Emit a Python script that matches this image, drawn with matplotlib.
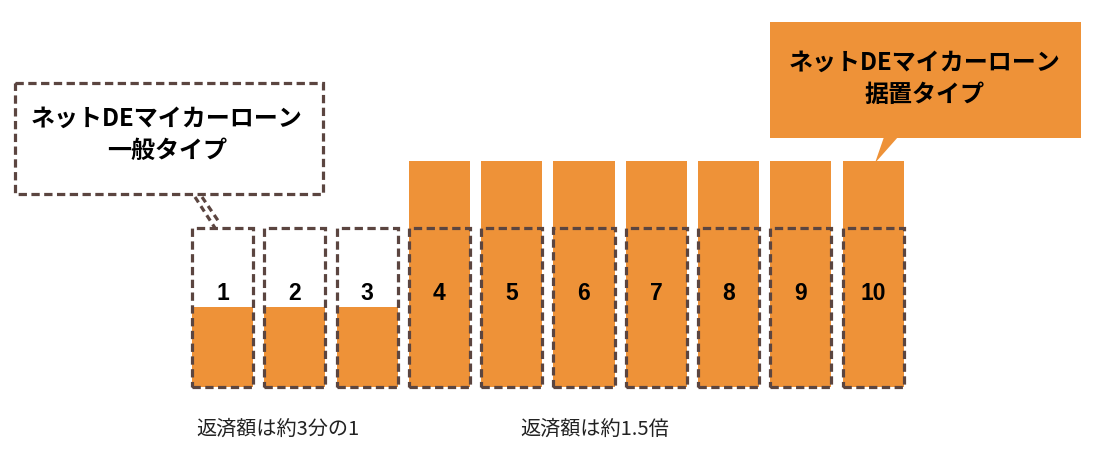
import matplotlib
matplotlib.use("Agg")
import matplotlib.pyplot as plt
from matplotlib.patches import Rectangle, Polygon

plt.rcParams['font.family'] = ['Noto Sans CJK JP', 'DejaVu Sans']

# ---- data ----
bar_labels = ["1", "2", "3", "4", "5", "6", "7", "8", "9", "10"]
payment = [0.5, 0.5, 0.5, 1.42, 1.42, 1.42, 1.42, 1.42, 1.42, 1.42]
standard = [1, 1, 1, 1, 1, 1, 1, 1, 1, 1]
left_callout = "ネットDEマイカーローン\n一般タイプ"
right_callout = "ネットDEマイカーローン\n据置タイプ"
note_low = "返済額は約3分の1"
note_high = "返済額は約1.5倍"

ORANGE = "#EE9238"
BROWN = "#5B4540"

W, H = 1100, 468
fig = plt.figure(figsize=(W / 100, H / 100), dpi=100)
ax = fig.add_axes([0, 0, 1, 1])
ax.set_xlim(-2.077, 13.137)
ax.set_ylim(-0.514, 2.438)
ax.axis("off")

xs = list(range(1, len(bar_labels) + 1))
bw = 0.845
ax.bar(xs, payment, width=bw, color=ORANGE, edgecolor='none', zorder=1)
ax.bar(xs, standard, width=bw, fill=False, edgecolor=BROWN, linewidth=2.3,
       linestyle=(0, (2.6, 1.4)), zorder=2)
for x, lab in zip(xs, bar_labels):
    ax.text(x, 0.585, lab, ha='center', va='center', fontsize=16.5,
            fontweight='bold', color='black', zorder=3,
            family=['Liberation Sans', 'DejaVu Sans'])

# overlay axes in pixel coordinates for callouts
ov = fig.add_axes([0, 0, 1, 1])
ov.set_xlim(0, W)
ov.set_ylim(H, 0)
ov.axis("off")
ov.patch.set_alpha(0)

# left callout (dashed)
ov.add_patch(Rectangle((15, 83), 308, 111, fill=False, edgecolor=BROWN,
                       linewidth=2.3, linestyle=(0, (2.6, 1.4))))
ov.plot([195, 215], [197, 228], color=BROWN, lw=2.3, linestyle=(0, (2.0, 1.4)))
ov.plot([202, 219], [197, 222], color=BROWN, lw=2.3, linestyle=(0, (2.0, 1.4)))
ov.text(167, 135, left_callout, ha='center', va='center', fontsize=17.3,
        fontweight='bold', color='black', linespacing=1.45)

# right callout (filled)
ov.add_patch(Rectangle((770, 22), 311, 116, facecolor=ORANGE, edgecolor='none'))
ov.add_patch(Polygon([[884, 137], [898, 137], [875, 163]], closed=True,
                     facecolor=ORANGE, edgecolor='none'))
ov.text(925, 79, right_callout, ha='center', va='center', fontsize=17.3,
        fontweight='bold', color='black', linespacing=1.45)

ov.text(278, 429, note_low, ha='center', va='center', fontsize=14.5, color='#222222')
ov.text(595, 429, note_high, ha='center', va='center', fontsize=14.5, color='#222222')

fig.savefig("out.png", dpi=100, facecolor='white')
